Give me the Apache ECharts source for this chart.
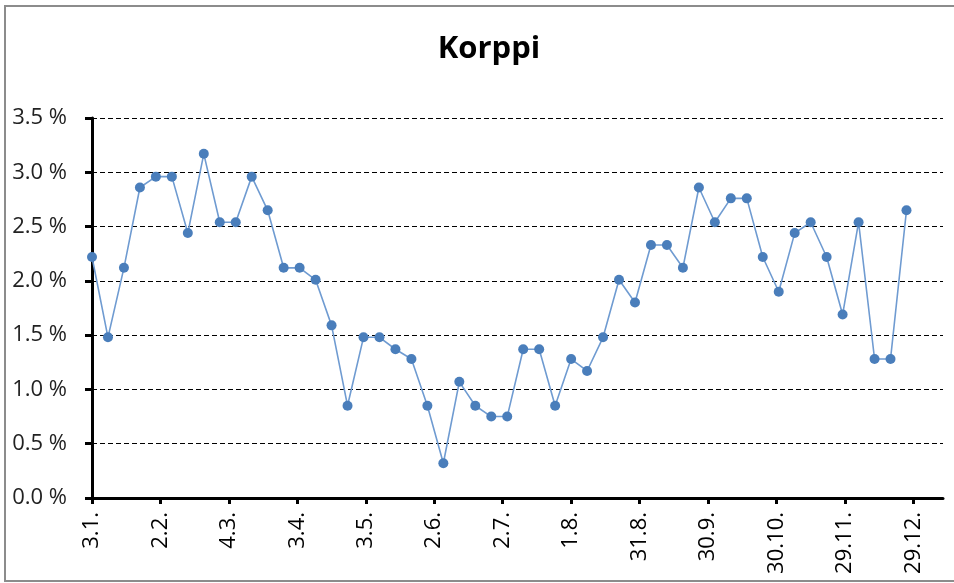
<!DOCTYPE html>
<html>
<head>
<meta charset="utf-8">
<script src="https://cdn.jsdelivr.net/npm/echarts@6/dist/echarts.min.js"></script>
<style>
html,body{margin:0;padding:0;background:#fff;}
#chart{width:954px;height:583px;}
</style>
</head>
<body>
<div id="chart"></div>
<script>
const chartTitle = 'Korppi';
// Day offsets from 3.1. (weekly observations)
const dayOffsets = [0,7,14,21,28,35,42,49,56,63,70,77,84,91,98,105,112,119,126,133,140,147,154,161,168,175,182,189,196,203,210,217,224,231,238,245,252,259,266,273,280,287,294,301,308,315,322,329,336,343,350,357];
const shareValues = [2.22,1.48,2.12,2.86,2.96,2.96,2.44,3.17,2.54,2.54,2.96,2.65,2.12,2.12,2.01,1.59,0.85,1.48,1.48,1.37,1.28,0.85,0.32,1.07,0.85,0.75,0.75,1.37,1.37,0.85,1.28,1.17,1.48,2.01,1.80,2.33,2.33,2.12,2.86,2.54,2.76,2.76,2.22,1.90,2.44,2.54,2.22,1.69,2.54,1.28,1.28,2.65];
const tickDays = [0,30,60,90,120,150,180,210,240,270,300,330,360];
const tickLabels = ['3.1.','2.2.','4.3.','3.4.','3.5.','2.6.','2.7.','1.8.','31.8.','30.9.','30.10.','29.11.','29.12.'];
const axisMaxDay = 373;

const chart = echarts.init(document.getElementById('chart'), null, {renderer:'canvas'});
const seriesData = dayOffsets.map((d, i) => [d, shareValues[i]]);
const FONT = '"Open Sans", "Liberation Sans", sans-serif';

chart.setOption({
  animation: false,
  backgroundColor: '#ffffff',
  graphic: [{
    type: 'rect',
    shape: {x: 5, y: 6, width: 1000, height: 575},
    style: {fill: 'none', stroke: '#8c8c8c', lineWidth: 2},
    silent: true
  }],
  title: {
    text: chartTitle,
    left: 484,
    textAlign: 'center',
    top: 29,
    textStyle: {fontFamily: FONT, fontWeight: 'bold', fontSize: 31, color: '#000'}
  },
  grid: {left: 92, right: 11, top: 118, bottom: 85, containLabel: false},
  xAxis: {
    type: 'value',
    min: 0,
    max: axisMaxDay,
    axisLine: {show: true, onZero: false, lineStyle: {color: '#000', width: 3}},
    axisTick: {show: true, customValues: tickDays, length: 6, lineStyle: {color: '#000', width: 3}},
    splitLine: {show: false},
    axisLabel: {
      customValues: tickDays,
      rotate: 90,
      margin: 14,
      fontFamily: FONT,
      fontSize: 22,
      color: '#000',
      formatter: function (v) {
        const idx = tickDays.indexOf(v);
        return idx >= 0 ? tickLabels[idx] : '';
      }
    }
  },
  yAxis: {
    type: 'value',
    min: 0,
    max: 3.5,
    interval: 0.5,
    axisLine: {show: true, lineStyle: {color: '#000', width: 3}},
    axisTick: {show: true, length: 7, lineStyle: {color: '#000', width: 3}},
    splitLine: {show: true, lineStyle: {color: '#000', width: 1, type: [5, 3]}},
    axisLabel: {
      margin: 25,
      fontFamily: FONT,
      fontSize: 22,
      color: '#222',
      formatter: function (v) { return v.toFixed(1) + ' %'; }
    }
  },
  series: [{
    type: 'line',
    data: seriesData,
    symbol: 'circle',
    symbolSize: 10,
    showAllSymbol: true,
    itemStyle: {color: '#4a7ebb'},
    lineStyle: {color: '#6f9bd1', width: 1.6},
    z: 5
  }]
});
</script>
</body>
</html>
